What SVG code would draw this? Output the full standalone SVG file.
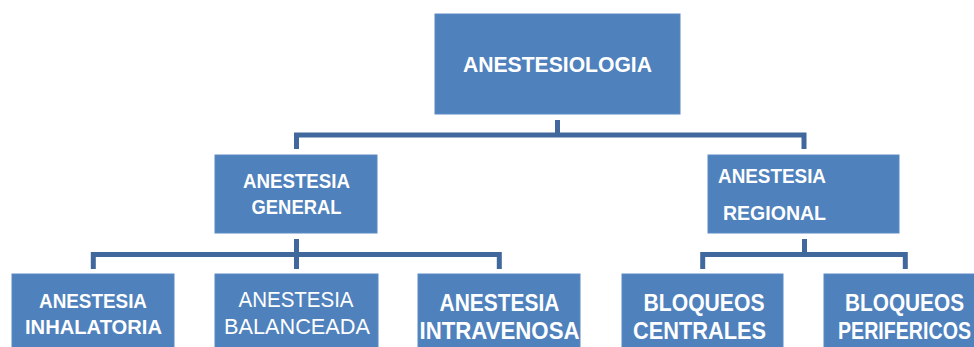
<svg xmlns="http://www.w3.org/2000/svg" width="974" height="347" viewBox="0 0 974 347">
<style>
.box{fill:#4F81BD;stroke:#5B8AC4;stroke-width:1}
.t{font-family:"Liberation Sans",Arial,sans-serif;font-weight:bold;fill:#FFFFFF;text-anchor:middle}
.r{font-family:"Liberation Sans",Arial,sans-serif;font-weight:normal;fill:#FFFFFF;text-anchor:middle}
.c{fill:none;stroke:#41689C;stroke-width:5;stroke-linejoin:miter;stroke-linecap:butt}
</style>
<rect width="974" height="347" fill="#FFFFFF"/>
<g id="connectors">
<path class="c" d="M296.5,149 V135 H804 V149 M557.5,120 V135"/>
<path class="c" d="M93.3,269 V254.5 H499.3 V269 M296.5,239 V269"/>
<path class="c" d="M702.7,269 V254.5 H905.3 V269 M804.5,239 V254.5"/>
</g>
<g id="anestesiologia">
<rect class="box" x="435" y="14" width="245" height="100"/>
<text class="t" x="557.5" y="72" font-size="22.5" textLength="189" lengthAdjust="spacingAndGlyphs">ANESTESIOLOGIA</text>
</g>
<g id="general">
<rect class="box" x="215" y="155" width="162" height="78"/>
<text class="t" x="296.5" y="188" font-size="21" textLength="107" lengthAdjust="spacingAndGlyphs">ANESTESIA</text>
<text class="t" x="296.5" y="214" font-size="21" textLength="90" lengthAdjust="spacingAndGlyphs">GENERAL</text>
</g>
<g id="regional">
<rect class="box" x="708" y="155" width="191" height="78"/>
<text class="t" x="718" y="183" font-size="21" textLength="108" lengthAdjust="spacingAndGlyphs" style="text-anchor:start">ANESTESIA</text>
<text class="t" x="723" y="220" font-size="21" textLength="103" lengthAdjust="spacingAndGlyphs" style="text-anchor:start">REGIONAL</text>
</g>
<g id="inhalatoria">
<rect class="box" x="12" y="274" width="162" height="90"/>
<text class="t" x="93" y="308" font-size="21" textLength="108" lengthAdjust="spacingAndGlyphs">ANESTESIA</text>
<text class="t" x="93.5" y="334" font-size="21" textLength="137" lengthAdjust="spacingAndGlyphs">INHALATORIA</text>
</g>
<g id="balanceada">
<rect class="box" x="215" y="274" width="163" height="90"/>
<text class="r" x="296" y="307" font-size="22" textLength="115" lengthAdjust="spacingAndGlyphs">ANESTESIA</text>
<text class="r" x="297" y="334" font-size="22" textLength="146" lengthAdjust="spacingAndGlyphs">BALANCEADA</text>
</g>
<g id="intravenosa">
<rect class="box" x="418" y="274" width="162" height="90"/>
<text class="t" x="499.5" y="311" font-size="23" textLength="120" lengthAdjust="spacingAndGlyphs">ANESTESIA</text>
<text class="t" x="499.5" y="339" font-size="23" textLength="160" lengthAdjust="spacingAndGlyphs">INTRAVENOSA</text>
</g>
<g id="centrales">
<rect class="box" x="622" y="274" width="161" height="90"/>
<text class="t" x="704" y="311" font-size="23" textLength="121" lengthAdjust="spacingAndGlyphs">BLOQUEOS</text>
<text class="t" x="699.5" y="339" font-size="23" textLength="133" lengthAdjust="spacingAndGlyphs">CENTRALES</text>
</g>
<g id="perifericos">
<rect class="box" x="824" y="274" width="162" height="90"/>
<text class="t" x="904.5" y="311" font-size="23" textLength="119" lengthAdjust="spacingAndGlyphs">BLOQUEOS</text>
<text class="t" x="904.5" y="339" font-size="23" textLength="133" lengthAdjust="spacingAndGlyphs">PERIFERICOS</text>
</g>
</svg>
